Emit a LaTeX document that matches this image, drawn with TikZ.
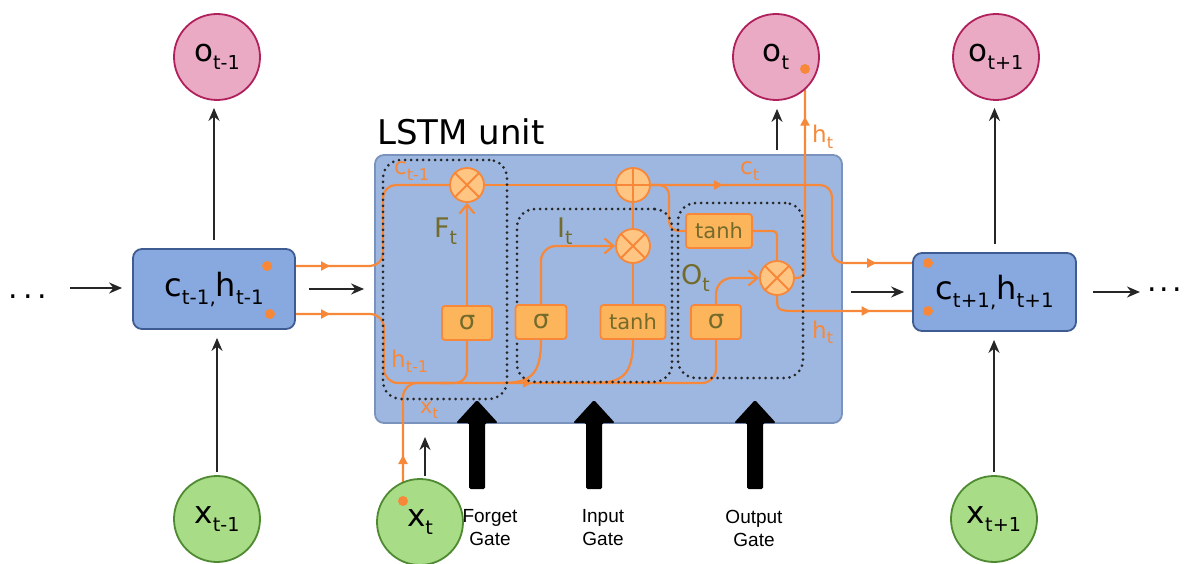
\documentclass[tikz,border=0pt]{standalone}
\usepackage{fontspec}
\setmainfont{DejaVu Sans}
\newfontfamily\gatefont{Liberation Sans}
\usetikzlibrary{arrows.meta,decorations.markings}
\makeatletter
\newcommand\lsub[2][0.62]{\raisebox{-0.25em}{\fontsize{\fpeval{#1*\f@size}}{0}\selectfont #2}}
\makeatother
\newcommand\myfs[1]{\fontsize{#1}{#1}\selectfont}
\newcommand\bigup[1]{\fill[black, rounded corners=1.5pt] ({#1-8},489) -- ({#1-8},423) -- ({#1-21},423) -- (#1,400) -- ({#1+21},423) -- ({#1+8},423) -- ({#1+8},489) -- cycle;}
\definecolor{pinkf}{HTML}{EAAAC4}
\definecolor{pinkb}{HTML}{B0205C}
\definecolor{greenf}{HTML}{A8DC86}
\definecolor{greenb}{HTML}{4F8A33}
\definecolor{boxf}{HTML}{87A9E0}
\definecolor{boxb}{HTML}{3E5C92}
\definecolor{unitf}{HTML}{9EB7E0}
\definecolor{unitb}{HTML}{7A93BD}
\definecolor{orl}{HTML}{F7883A}
\definecolor{actf}{HTML}{FDB55C}
\definecolor{opf}{HTML}{FFC583}
\definecolor{gtext}{HTML}{736B2B}
\pgfdeclarelayer{bg}
\pgfdeclarelayer{wires}
\pgfsetlayers{bg,wires,main}
\begin{document}
\begin{tikzpicture}[x=1pt,y=-1pt,
  every node/.style={inner sep=0pt},
  pinkc/.style={circle,draw=pinkb,fill=pinkf,line width=1.8pt,minimum size=86pt,font=\myfs{31}},
  greenc/.style={circle,draw=greenb,fill=greenf,line width=1.8pt,minimum size=86pt,font=\myfs{31}},
  cellbox/.style={draw=boxb,fill=boxf,rounded corners=9pt,line width=1.8pt,font=\myfs{32}},
  unitbox/.style={draw=unitb,fill=unitf,rounded corners=9pt,line width=1.8pt},
  gatezone/.style={draw=black!85,line width=3pt,dash pattern=on 0pt off 6pt,line cap=round,rounded corners=18pt},
  opc/.style={circle,draw=orl,fill=opf,line width=1.8pt,minimum size=34pt},
  actbox/.style={draw=orl,fill=actf,line width=1.8pt,rounded corners=3pt,minimum height=34pt,text=gtext},
  gatelbl/.style={font=\myfs{27},text=gtext,anchor=base west},
  orlbl/.style={font=\myfs{23},text=orl,anchor=base west},
  gatetxt/.style={font=\gatefont\fontsize{19}{23}\selectfont,align=center},
  wire/.style={draw=orl,color=orl,line width=2.2pt},
  mk/.style={postaction={decorate},decoration={markings,mark=at position #1 with {\arrow{Triangle[length=9pt,width=9pt]}}}},
  mkk/.style 2 args={postaction={decorate},decoration={markings,mark=at position #1 with {\arrow{Triangle[length=9pt,width=9pt]}},mark=at position #2 with {\arrow{Triangle[length=9pt,width=9pt]}}}},
  barb/.style={-{Straight Barb[length=9pt,width=15pt]}},
  blk/.style={draw=black!85,line width=2pt,-{Stealth[length=13pt,width=11pt]}}
]
\useasboundingbox (0,0) rectangle (1184,564);
\begin{pgfonlayer}{bg}
\fill[white] (0,0) rectangle (1184,564);
\node[unitbox,minimum width=467pt,minimum height=268pt] (lstm) at (608.5,289) {};
\end{pgfonlayer}
\node[anchor=base west,font=\myfs{34}] (title) at (377,145) {LSTM unit};

% outer nodes
\node[pinkc] (ot1) at (217,57) {o\lsub{t-1}};
\node[pinkc] (ot) at (776,57) {o\lsub{t}};
\node[pinkc] (ot2) at (996,57) {o\lsub{t+1}};
\node[greenc] (xt1) at (217,519) {x\lsub{t-1}};
\node[greenc] (xt) at (420,522) {x\lsub{t}};
\node[greenc] (xt2) at (994,519) {x\lsub{t+1}};
\node[cellbox,minimum width=162pt,minimum height=80pt] (hprev) at (214,289) {c\lsub{t-1,}h\lsub{t-1}};
\node[cellbox,minimum width=163pt,minimum height=78pt] (hnext) at (994.5,292) {c\lsub{t+1,}h\lsub{t+1}};
\node[font=\myfs{30}] (dl) at (28,297) {.\hspace{5pt}.\hspace{5pt}.};
\node[font=\myfs{30},anchor=west] (dr) at (1147,290) {.\hspace{3pt}.\hspace{3pt}.};

% operators
\node[opc] (mulf) at (467,185) {};
\node[opc] (plus) at (633,185) {};
\node[opc] (muli) at (633,246) {};
\node[opc] (mulo) at (777,278) {};
\draw[orl,line width=1.8pt] (mulf.north west) -- (mulf.south east) (mulf.north east) -- (mulf.south west);
\draw[orl,line width=1.8pt] (muli.north west) -- (muli.south east) (muli.north east) -- (muli.south west);
\draw[orl,line width=1.8pt] (mulo.north west) -- (mulo.south east) (mulo.north east) -- (mulo.south west);
\draw[orl,line width=1.8pt] (plus.north) -- (plus.south) (plus.west) -- (plus.east);

% activation boxes
\node[actbox,minimum width=50pt,font=\myfs{26}] (sigf) at (467,323) {σ};
\node[actbox,minimum width=51pt,font=\myfs{26}] (sigi) at (541,322) {σ};
\node[actbox,minimum width=65pt,font=\myfs{21}] (tanhi) at (633,322) {tanh};
\node[actbox,minimum width=50pt,font=\myfs{26}] (sigo) at (716,322) {σ};
\node[actbox,minimum width=66pt,font=\myfs{21}] (tanho) at (719,231) {tanh};

% labels
\node[gatelbl] (lf) at (434,238) {F\lsub[0.7]{t}};
\node[gatelbl] (li) at (557,238) {I\lsub[0.7]{t}};
\node[gatelbl] (lo) at (681,285) {O\lsub[0.7]{t}};
\node[orlbl] (lc1) at (394,175) {c\lsub[0.7]{t-1}};
\node[orlbl] (lh1) at (391,367) {h\lsub[0.7]{t-1}};
\node[orlbl,font=\myfs{21}] (lx) at (420,413) {x\lsub[0.7]{t}};
\node[orlbl] (lct) at (740,175) {c\lsub[0.7]{t}};
\node[orlbl] (lht) at (812,143) {h\lsub[0.7]{t}};
\node[orlbl] (lht2) at (812,338) {h\lsub[0.7]{t}};
\node[gatetxt] (fg) at (490,528) {Forget\\Gate};
\node[gatetxt] (ig) at (603,528) {Input\\Gate};
\node[gatetxt] (og) at (754,528) {Output\\Gate};

% wire end points
\coordinate (cdotL) at (267,266);
\coordinate (hdotL) at (270,314);
\coordinate (cdotR) at (928,263);
\coordinate (hdotR) at (928,311);
\coordinate (xdot) at (403,501);
\coordinate (otdot) at (805,69);

\begin{pgfonlayer}{wires}
\draw[wire,mk=63pt,rounded corners=13pt] (cdotL) -- (383,266) -- (383,185) -- (mulf.west);
\draw[wire] (mulf.east) -- (plus.west);
\draw[wire,mkk={72pt}{293pt},rounded corners=12pt] (plus.east) -- (832,185) -- (832,263) -- (cdotR);
\draw[wire,mkk={60pt}{319pt},rounded corners=14pt] (hdotL) -- (384,314) -- (384,383) -- (716,383) -- (sigo.south);
\draw[wire,mk=46pt,rounded corners=14pt] (xdot) -- (403,383) -- (450,383);
\draw[wire,rounded corners=12pt] (sigf.south) -- (467,383) -- (440,383);
\draw[wire] (sigi.south) .. controls (541,376) and (530,383) .. (500,383);
\draw[wire] (tanhi.south) .. controls (633,376) and (622,383) .. (592,383);
\draw[wire,barb] (sigf.north) -- (mulf.south);
\draw[wire,barb,rounded corners=15pt] (sigi.north) -- (541,246) -- (muli.west);
\draw[wire] (tanhi.north) -- (muli.south);
\draw[wire] (muli.north) -- (plus.south);
\draw[wire,rounded corners=10pt] (plus.east) -- (669,185) -- (669,231) -- (tanho.west);
\draw[wire,rounded corners=4pt] (tanho.east) -- (777,231) -- (mulo.north);
\draw[wire,barb,rounded corners=16pt] (sigo.north) -- (716,278) -- (mulo.west);
\draw[wire,mk=168pt,rounded corners=8pt] (mulo.east) -- (805,278) -- (otdot);
\draw[wire,mk=105pt] (mulo.south) .. controls (777,311) .. (800,311) -- (hdotR);
\node[gatezone,minimum width=124pt,minimum height=239pt] (fz) at (445,279.5) {};
\node[gatezone,minimum width=155pt,minimum height=173pt] (iz) at (594.5,295.5) {};
\node[gatezone,minimum width=125pt,minimum height=175pt] (oz) at (740.5,290.5) {};
\end{pgfonlayer}

\foreach \p in {cdotL,hdotL,cdotR,hdotR,xdot,otdot} \fill[orl] (\p) circle[radius=5pt];

% black connectors
\draw[blk,shorten <=8pt,shorten >=7pt] (hprev.north) -- (hprev.north |- ot1.south);
\draw[blk,shorten <=3pt,shorten >=8pt] (xt1.north) -- (xt1.north |- hprev.south);
\draw[blk,shorten <=8pt,shorten >=7pt] (hnext.north) -- (hnext.north |- ot2.south);
\draw[blk,shorten <=3pt,shorten >=8pt] (xt2.north) -- (xt2.north |- hnext.south);
\coordinate (inL) at (70,288);
\draw[blk,shorten >=10pt] (inL) -- (inL -| hprev.west);
\draw[blk,shorten <=13pt,shorten >=10pt] (hprev.east) -- (hprev.east -| lstm.west);
\draw[blk,shorten <=8pt,shorten >=8pt] (lstm.east |- hnext.west) -- (hnext.west);
\coordinate (outR) at (1140,292);
\draw[blk,shorten <=16pt] (hnext.east) -- (outR);
\coordinate (otin) at (777,150);
\draw[blk,shorten >=8pt] (otin) -- (otin |- ot.south);
\coordinate (xtin) at (425,437);
\draw[blk,shorten <=2pt] ([xshift=5pt]xt.north) -- (xtin);

% gate arrows
\bigup{477}
\bigup{594}
\bigup{755}
\end{tikzpicture}
\end{document}
